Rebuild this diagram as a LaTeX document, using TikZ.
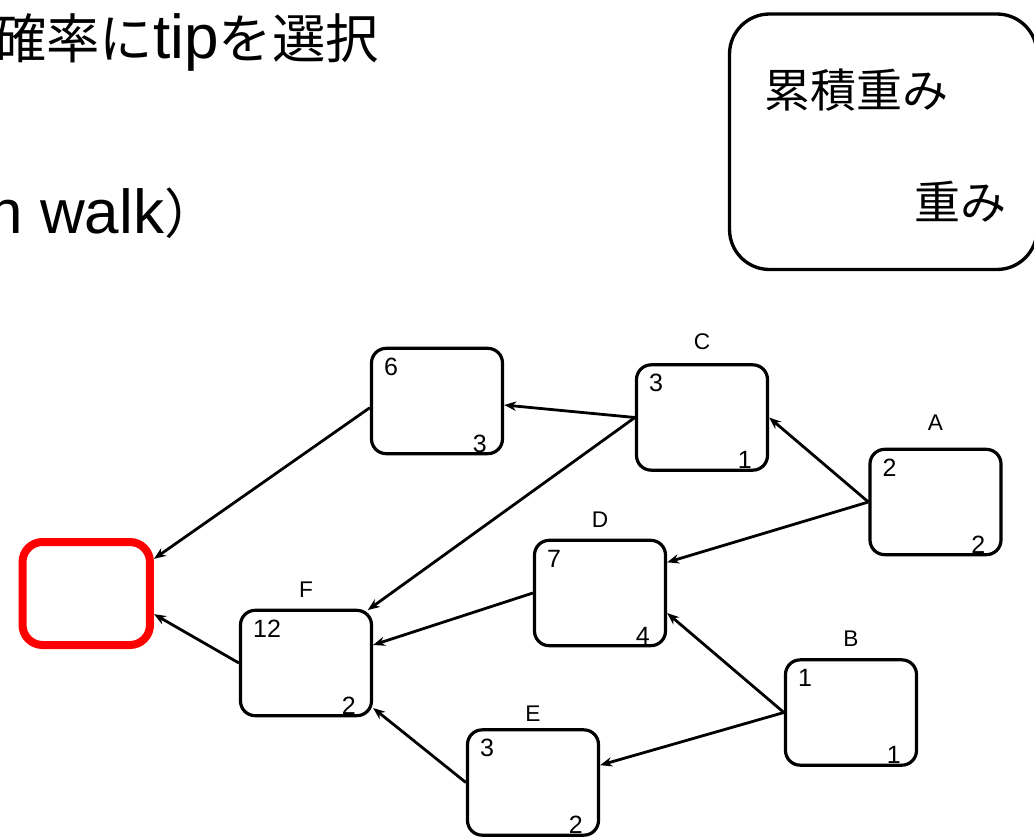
\documentclass[tikz,border=0pt]{standalone}
\usepackage{fontspec}
\setmainfont{Liberation Sans}
\newfontfamily\jp{Noto Sans CJK JP}
\usetikzlibrary{arrows.meta,positioning}
\begin{document}
\begin{tikzpicture}[x=0.75pt,y=-0.75pt,
  box/.style={draw,line width=2.4pt,rounded corners=11pt,minimum width=98.25pt,minimum height=79pt,inner sep=0pt},
  redbox/.style={draw=red,line width=6pt,rounded corners=15pt,minimum width=95.6pt,minimum height=77.25pt,inner sep=0pt},
  lab/.style={font=\fontsize{17}{19}\selectfont,inner sep=0pt},
  num/.style={font=\fontsize{18.75}{20}\selectfont,inner sep=0pt},
  arr/.style={line width=2.1pt,-{Stealth[length=9pt,width=7pt]}},
  jptext/.style={inner sep=0pt,font=\jp\fontsize{34.5}{38}\selectfont}
]
\useasboundingbox (0,0) rectangle (1034,838);
\clip (0,0) rectangle (1034,838);

% title text (cut at left)
\node[anchor=base east,inner sep=0pt] (t1) at (379,59)
  {\jp\fontsize{40}{44}\selectfont 確率に{\rmfamily\fontsize{46.5}{50}\selectfont tip}を選択};
\node[anchor=base west,inner sep=0pt] (t2) at (-11.7,233)
  {\fontsize{46.5}{50}\selectfont n walk{\jp\fontsize{40}{44}\selectfont ）}};

% legend
\node[draw,line width=2.5pt,rounded corners=30pt,minimum width=230.6pt,minimum height=191.6pt,inner sep=0pt] (L) at (883.25,141.75) {};
\node[jptext,anchor=base west] (L1) at (764,108) {累積重み};
\node[jptext,anchor=base west] (L2) at (914,219) {重み};

% boxes
\node[redbox] (R) at (86.25,593.5) {};
\node[box] (G) at (437,401) {};
\node[box] (C) at (702,417.5) {};
\node[box] (A) at (935.5,502) {};
\node[box] (B) at (851,712.5) {};
\node[box] (D) at (600,593) {};
\node[box] (F) at (306,663) {};
\node[box] (E) at (533,782.5) {};

% labels
\node[lab,above=9.75pt of C] (Cl) {C};
\node[lab,above=12.75pt of A] (Al) {A};
\node[lab,above=8.25pt of B] (Bl) {B};
\node[lab,above=8.25pt of D] (Dl) {D};
\node[lab,above=8.25pt of F] (Fl) {F};
\node[lab,above=4.5pt of E] (El) {E};

% cumulative weights (top left)
\node[num,anchor=north west] (Gc) at ([xshift=10.5pt,yshift=-8.25pt]G.north west) {6};
\node[num,anchor=north west] (Cc) at ([xshift=10.5pt,yshift=-8.25pt]C.north west) {3};
\node[num,anchor=north west] (Ac) at ([xshift=10.5pt,yshift=-8.25pt]A.north west) {2};
\node[num,anchor=north west] (Bc) at ([xshift=10.5pt,yshift=-8.25pt]B.north west) {1};
\node[num,anchor=north west] (Dc) at ([xshift=10.5pt,yshift=-8.25pt]D.north west) {7};
\node[num,anchor=north west] (Fc) at ([xshift=10.5pt,yshift=-8.25pt]F.north west) {12};
\node[num,anchor=north west] (Ec) at ([xshift=10.5pt,yshift=-8.25pt]E.north west) {3};

% weights (bottom right)
\node[num,anchor=base east] (Gw) at ([xshift=-12.75pt,yshift=2.25pt]G.south east) {3};
\node[num,anchor=base east] (Cw) at ([xshift=-12.75pt,yshift=2.25pt]C.south east) {1};
\node[num,anchor=base east] (Aw) at ([xshift=-12.75pt,yshift=2.25pt]A.south east) {2};
\node[num,anchor=base east] (Bw) at ([xshift=-12.75pt,yshift=2.25pt]B.south east) {1};
\node[num,anchor=base east] (Dw) at ([xshift=-12.75pt,yshift=2.25pt]D.south east) {4};
\node[num,anchor=base east] (Fw) at ([xshift=-12.75pt,yshift=2.25pt]F.south east) {2};
\node[num,anchor=base east] (Ew) at ([xshift=-12.75pt,yshift=2.25pt]E.south east) {2};

% connectors
\draw[arr] (A.west) -- (C.east);
\draw[arr] (A.west) -- ([yshift=23pt]D.east);
\draw[arr] (B.west) -- ([yshift=-15pt]D.east);
\draw[arr] (B.west) -- ([yshift=13pt]E.east);
\draw[arr] (C.west) -- ([yshift=-3pt]G.east);
\draw[arr] (C.west) -- ([xshift=-4pt,yshift=-1pt]F.north east);
\draw[arr] (D.west) -- ([yshift=13.5pt]F.east);
\draw[arr] (E.west) -- ([yshift=-33.75pt]F.east);
\draw[arr] ([yshift=-5pt]G.west) -- ([yshift=26pt]R.east);
\draw[arr] (F.west) -- ([yshift=-15.5pt]R.east);
\end{tikzpicture}
\end{document}
